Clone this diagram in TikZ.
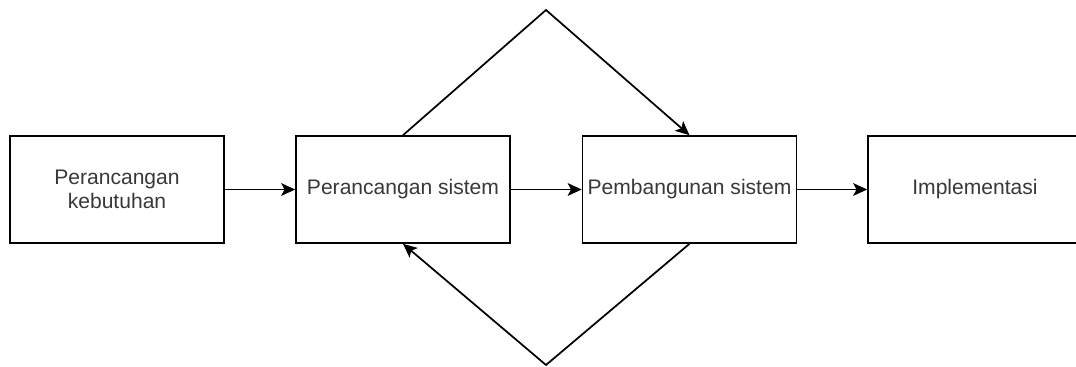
\documentclass[tikz,border=0pt]{standalone}
\usepackage{fontspec}
\setmainfont{Liberation Sans}
\usetikzlibrary{arrows.meta}
\begin{document}
\begin{tikzpicture}
[x=0.75pt,y=-0.75pt,
  boxdecorate/.style={shape=rectangle,draw,line width=1.2pt,minimum width=160.5pt,
    minimum height=80.25pt,inner sep=1pt,align=center,text=black!78,
    font=\fontsize{15.8}{18}\selectfont},%
  linedecorate/.style={-{Stealth[length=10.5pt,width=9.5pt,inset=2.5pt]},line width=1.3pt}]
\useasboundingbox (0,0) rectangle (1076,367);
%% nodes or boxes
\foreach \nodename/\x/\y/\words in {b1/117/189.5/{Perancangan\\kebutuhan},
  b2/403/189.5/{Perancangan sistem}, b3/689.5/189.5/{Pembangunan sistem},
  b4/975/189.5/{Implementasi}}
{
  \node (\nodename) at (\x,\y) [boxdecorate] {\words};
}
\coordinate (top) at (546,10);
\coordinate (bot) at (546,365);
%% edges or lines
\path
\foreach \startnode/\endnode in {b1/b2, b2/b3, b3/b4} {
  (\startnode) edge[linedecorate] (\endnode)
};
\draw[linedecorate] (b2.north) -- (top) -- (b3.north);
\draw[linedecorate] (b3.south) -- (bot) -- (b2.south);
\end{tikzpicture}
\end{document}
